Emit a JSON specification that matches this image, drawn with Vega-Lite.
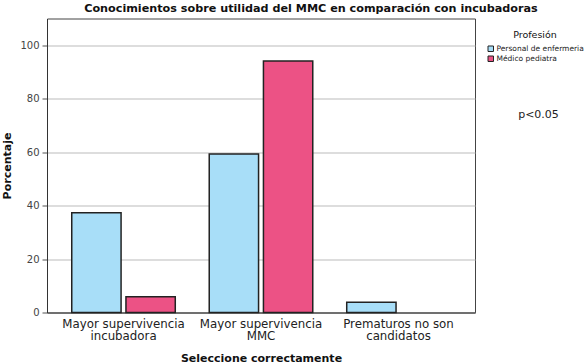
{
  "$schema": "https://vega.github.io/schema/vega-lite/v6.json",
  "autosize": {"type": "none"},
  "width": 428,
  "height": 294,
  "padding": {"left": 47, "top": 18.5, "right": 109, "bottom": 51.5},
  "background": "white",
  "title": {
    "text": "Conocimientos sobre utilidad del MMC en comparación con incubadoras",
    "font": "DejaVu Sans",
    "fontSize": 11.2,
    "fontWeight": "bold",
    "color": "#111",
    "anchor": "middle",
    "frame": "group",
    "dx": 50,
    "offset": 4
  },
  "config": {
    "font": "DejaVu Sans",
    "view": {"stroke": "#444", "strokeWidth": 1}
  },
  "layer": [
    {
      "data": {
        "values": [
          {"cat": "Mayor supervivencia incubadora", "prof": "Personal de enfermeria", "pct": 37.3},
          {"cat": "Mayor supervivencia incubadora", "prof": "Médico pediatra", "pct": 5.9},
          {"cat": "Mayor supervivencia MMC", "prof": "Personal de enfermeria", "pct": 59.3},
          {"cat": "Mayor supervivencia MMC", "prof": "Médico pediatra", "pct": 94.1},
          {"cat": "Prematuros no son candidatos", "prof": "Personal de enfermeria", "pct": 3.8}
        ]
      },
      "mark": {"type": "bar", "stroke": "#222", "strokeWidth": 1.5},
      "encoding": {
        "x": {
          "field": "cat",
          "type": "nominal",
          "sort": ["Mayor supervivencia incubadora", "Mayor supervivencia MMC", "Prematuros no son candidatos"],
          "scale": {"paddingInner": 0.247, "paddingOuter": 0.18},
          "axis": {
            "labelAngle": 0,
            "labelExpr": "datum.value == 'Prematuros no son candidatos' ? ['Prematuros no son', 'candidatos'] : [slice(datum.value, 0, 19), slice(datum.value, 20)]",
            "labelFontSize": 11.8,
            "labelColor": "#222",
            "labelLineHeight": 12,
            "ticks": false,
            "labelPadding": 6,
            "domainColor": "#333",
            "title": "Seleccione correctamente",
            "titleFontSize": 11,
            "titleFontWeight": "bold",
            "titleColor": "#111",
            "titlePadding": 10
          }
        },
        "xOffset": {
          "field": "prof",
          "type": "nominal",
          "sort": ["Personal de enfermeria", "Médico pediatra"],
          "scale": {"paddingInner": 0.09, "paddingOuter": 0}
        },
        "y": {
          "field": "pct",
          "type": "quantitative",
          "scale": {"domain": [0, 110], "nice": false},
          "axis": {
            "values": [0, 20, 40, 60, 80, 100],
            "grid": true,
            "gridColor": "#bbb",
            "tickSize": 5,
            "tickColor": "#555",
            "domainColor": "#333",
            "labelFontSize": 10,
            "labelColor": "#444",
            "labelPadding": 3,
            "title": "Porcentaje",
            "titleFontSize": 11,
            "titleFontWeight": "bold",
            "titleColor": "#111",
            "titlePadding": 7
          }
        },
        "color": {
          "field": "prof",
          "type": "nominal",
          "scale": {"domain": ["Personal de enfermeria", "Médico pediatra"], "range": ["#a8def8", "#ec5285"]},
          "legend": {
            "orient": "none",
            "legendX": 440,
            "legendY": 11,
            "title": "Profesión",
            "titleFontSize": 9.5,
            "titleFontWeight": "normal",
            "titleColor": "#111",
            "titleAnchor": "middle",
            "titlePadding": 6,
            "labelFontSize": 7.5,
            "labelColor": "#222",
            "labelOffset": 2,
            "symbolType": "square",
            "symbolSize": 30,
            "symbolStrokeColor": "#222",
            "symbolStrokeWidth": 1,
            "symbolOpacity": 1,
            "rowPadding": 0
          }
        }
      }
    },
    {
      "data": {"values": [{"txt": "p<0.05"}]},
      "mark": {"type": "text", "dx": 140, "fontSize": 11, "color": "#222"},
      "encoding": {
        "x": {"datum": "Prematuros no son candidatos", "type": "nominal"},
        "y": {"datum": 74, "type": "quantitative"},
        "text": {"field": "txt"}
      }
    }
  ]
}
